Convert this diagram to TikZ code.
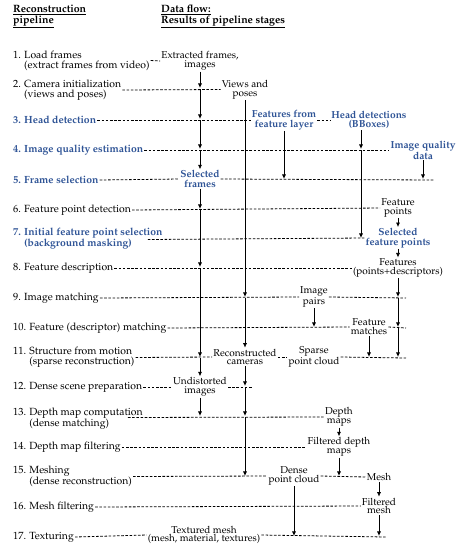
\documentclass[tikz,border=0pt]{standalone}
\usepackage[T1]{fontenc}
\usepackage{mathpazo}
\usetikzlibrary{arrows.meta}
\definecolor{stageblue}{RGB}{47,84,150}
\tikzset{
	stage/.style={anchor=west,align=left,inner sep=1pt,font=\fontsize{10.4}{10.2}\selectfont},
	hot/.style={text=stageblue,font=\fontsize{10.4}{10.2}\selectfont\bfseries},
	result/.style={align=center,inner sep=1pt,font=\fontsize{10}{8.8}\selectfont},
	hotresult/.style={result,text=stageblue,font=\fontsize{10.2}{9.4}\selectfont\bfseries},
	link/.style={dash pattern=on 2.6pt off 1.6pt,line width=0.8pt},
	flow/.style={-{Latex[length=4.6pt,width=4.2pt]},line width=0.8pt,shorten >=1pt}
}
\begin{document}
\begin{tikzpicture}[x=1pt,y=-1pt]
		\useasboundingbox (0,0) rectangle (462,550);
		% Zeilen
		\foreach \k/\y in {1/61,2/89,3/120,4/150,5/180,6/210,7/239,8/268,9/298,10/328,11/358,12/387,13/417,14/447,15/477,16/507,17/537}
		\coordinate (r\k) at (0,\y);
		% Kopf
		\node [stage,font=\fontsize{10.6}{10.8}\selectfont\bfseries] (h1) at (12,16.5) {\underline{Reconstruction}\\\underline{pipeline}};
		\node [stage,font=\fontsize{10.6}{10.8}\selectfont\bfseries] (h2) at (160,16.5) {\underline{Data flow:}\\\underline{Results of pipeline stages}};
		% Pipeline
		\node [stage] (l1) at (12,60.5) {1. Load frames\\\hphantom{1. }(extract frames from video)};
		\node [stage] (l2) at (12,90) {2. Camera initialization\\\hphantom{2. }(views and poses)};
		\node [stage,hot] (l3) at (12,120) {3. Head detection};
		\node [stage,hot] (l4) at (12,150) {4. Image quality estimation};
		\node [stage,hot] (l5) at (12,180) {5. Frame selection};
		\node [stage] (l6) at (12,210) {6. Feature point detection};
		\node [stage,hot] (l7) at (12,238.5) {7. Initial feature point selection\\\hphantom{7. }(background masking)};
		\node [stage] (l8) at (12,268) {8. Feature description};
		\node [stage] (l9) at (12,298) {9. Image matching};
		\node [stage] (l10) at (12,328) {10. Feature (descriptor) matching};
		\node [stage] (l11) at (12,357.5) {11. Structure from motion\\\hphantom{11. }(sparse reconstruction)};
		\node [stage] (l12) at (12,387) {12. Dense scene preparation};
		\node [stage] (l13) at (12,418.5) {13. Depth map computation\\\hphantom{13. }(dense matching)};
		\node [stage] (l14) at (12,447) {14. Depth map filtering};
		\node [stage] (l15) at (12,476.5) {15. Meshing\\\hphantom{15. }(dense reconstruction)};
		\node [stage] (l16) at (12,507) {16. Mesh filtering};
		\node [stage] (l17) at (12,537) {17. Texturing};
		% Ergebnisse
		\node [result] (d1) at (200,61) {Extracted frames,\\images};
		\node [result] (d2) at (245,89.5) {Views and\\poses};
		\node [hotresult] (d3a) at (284,120) {Features from\\feature layer};
		\node [hotresult] (d3b) at (369,120) {Head detections\\(BBoxes)};
		\node [hotresult] (d4) at (423,150) {Image quality\\data};
		\node [hotresult] (d5) at (200,179) {Selected\\frames};
		\node [result] (d6) at (398,208) {Feature\\points};
		\node [hotresult] (d7) at (398,238) {Selected\\feature points};
		\node [result] (d8) at (398,268) {Features\\(points+descriptors)};
		\node [result] (d9) at (314,297) {Image\\pairs};
		\node [result] (d10) at (369,327) {Feature\\matches};
		\node [result] (d11a) at (245,357) {Reconstructed\\cameras};
		\node [result] (d11b) at (314,357) {Sparse\\point cloud};
		\node [result] (d12) at (200,387) {Undistorted\\images};
		\node [result] (d13) at (339,417) {Depth\\maps};
		\node [result] (d14) at (339,447) {Filtered depth\\maps};
		\node [result] (d15a) at (294,476) {Dense\\point cloud};
		\node [result] (d15b) at (379,477) {Mesh};
		\node [result] (d16) at (379,506) {Filtered\\mesh};
		\node [result] (d17) at (204,535) {Textured mesh\\(mesh, material, textures)};
		% Enden der Linien
		\coordinate (e5) at (434,180);
		\coordinate (e9) at (406,298);
		\coordinate (e10) at (406,328);
		\coordinate (e11) at (406,358);
		\coordinate (e12) at (253,387);
		\coordinate (e17) at (386,537);
		\coordinate (bb) at ([xshift=-8pt]d3b.south);
		% gestrichelte Linien
		\draw [link] (l1.east) -- (d1.west);
		\draw [link] (l2.east) -- (d2.west);
		\draw [link] (l3.east) -- (d3a.west);
		\draw [link] (d3a.east) -- (d3b.west);
		\draw [link] (l4.east) -- (d4.west);
		\draw [link] (l5.east) -- (d5.west);
		\draw [link] (d5.east) -- (e5);
		\draw [link] (l6.east) -- (d6.west);
		\draw [link] ([xshift=-16pt,yshift=-1pt]l7.east) -- (d7.west);
		\draw [link] (l8.east) -- (d8.west);
		\draw [link] (l9.east) -- (d9.west);
		\draw [link] (d9.east) -- (e9);
		\draw [link] (l10.east) -- (d10.west);
		\draw [link] (d10.east) -- (e10);
		\draw [link] (l11.east) -- (d11a.west);
		\draw [link] (d11a.east) -- (d11b.west);
		\draw [link] (d11b.east) -- (e11);
		\draw [link] (l12.east) -- (d12.west);
		\draw [link] (d12.east) -- (e12);
		\draw [link] ([xshift=-16pt,yshift=1pt]l13.east) -- (d13.west);
		\draw [link] (l14.east) -- (d14.west);
		\draw [link] (l15.east) -- (d15a.west);
		\draw [link] (d15a.east) -- (d15b.west);
		\draw [link] (l16.east) -- (d16.west);
		\draw [link] (l17.east) -- (d17.west);
		\draw [link] (d17.east) -- (e17);
		% Bilder
		\draw [flow] (d1.south) -- (d1.south |- r2);
		\draw [flow] (d1.south |- r2) -- (d1.south |- r3);
		\draw [flow] (d1.south |- r3) -- (d1.south |- r4);
		\draw [flow,shorten >=0pt] (d1.south |- r4) -- (d5.north);
		\draw [flow] (d5.south) -- (d5.south |- r6);
		\draw [flow] (d5.south |- r6) -- (d5.south |- r8);
		\draw [flow] (d5.south |- r8) -- (d5.south |- r11);
		\draw [flow,shorten >=0pt] (d5.south |- r11) -- (d12.north);
		\draw [flow] (d12.south) -- (d12.south |- r13);
		% Kameras
		\draw [flow] (d2.south) -- (d2.south |- r9);
		\draw [flow,shorten >=0pt] (d2.south |- r9) -- (d11a.north);
		\draw [flow] (d11a.south) -- (d11a.south |- r12);
		\draw [flow] (d11a.south |- r12) -- (d11a.south |- r13);
		\draw [flow] (d11a.south |- r13) -- (d11a.south |- r15);
		% neue Daten
		\draw [flow] (d3a.south) -- (d3a.south |- r5);
		\draw [flow] (bb) -- (bb |- r4);
		\draw [flow] (bb |- r4) -- (bb |- r7);
		\draw [flow] (d4.south) -- (d4.south |- r5);
		% Merkmale
		\draw [flow,shorten >=0pt] (d6.south) -- (d7.north);
		\draw [flow,shorten >=0pt] (d7.south) -- (d8.north);
		\draw [flow] (d8.south) -- (d8.south |- r9);
		\draw [flow] (d8.south |- r9) -- (d8.south |- r10);
		\draw [flow] (d8.south |- r10) -- (d8.south |- r11);
		\draw [flow] (d9.south) -- (d9.south |- r10);
		\draw [flow] (d10.south) -- (d10.south |- r11);
		% dicht
		\draw [flow,shorten >=0pt] (d13.south) -- (d14.north);
		\draw [flow] (d14.south) -- (d14.south |- r15);
		\draw [flow] (d15a.south) -- (d15a.south |- r17);
		\draw [flow,shorten >=0pt] (d15b.south) -- (d16.north);
		\draw [flow] (d16.south) -- (d16.south |- r17);
\end{tikzpicture}
\end{document}
